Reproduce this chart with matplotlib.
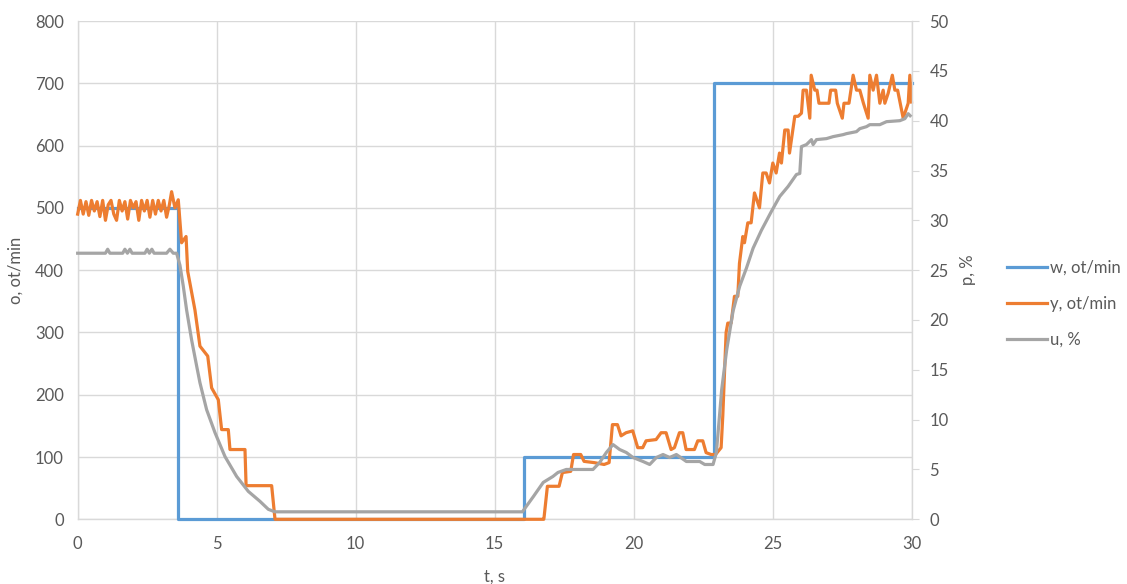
import matplotlib.pyplot as plt
from matplotlib.lines import Line2D

# setpoint w, ot/min
w_t = [0.0, 3.62, 3.62, 16.05, 16.05, 22.9, 22.9, 30.0]
w_val = [500, 500, 0, 0, 100, 100, 700, 700]

# measured speed y, ot/min
y_t = [0.0, 0.1, 0.2, 0.3, 0.4, 0.5, 0.6, 0.7, 0.8, 0.9, 1.0, 1.1, 1.2, 1.3, 1.4,
       1.5, 1.6, 1.7, 1.8, 1.9, 2.0, 2.1, 2.2, 2.3, 2.4, 2.5, 2.6, 2.7, 2.8, 2.9,
       3.0, 3.1, 3.2, 3.3, 3.38, 3.5, 3.62, 3.74, 3.9, 3.96, 4.22, 4.4, 4.68, 4.82,
       5.06, 5.18, 5.42, 5.48, 6.02, 6.06, 6.98, 7.1, 16.77, 16.78, 16.9, 17.32,
       17.44, 17.74, 17.84, 18.1, 18.22, 18.58, 18.94, 19.12, 19.24, 19.42, 19.55,
       19.73, 19.97, 20.15, 20.33, 20.45, 20.81, 20.99, 21.17, 21.35, 21.47, 21.65,
       21.77, 21.89, 22.19, 22.31, 22.49, 22.61, 22.79, 22.95, 23.15, 23.21, 23.33,
       23.39, 23.51, 23.63, 23.75, 23.81, 23.93, 23.99, 24.11, 24.23, 24.35, 24.53,
       24.65, 24.77, 24.89, 25.01, 25.13, 25.25, 25.32, 25.44, 25.56, 25.61, 25.8,
       25.92, 26.04, 26.1, 26.22, 26.34, 26.39, 26.52, 26.6, 26.67, 27.03, 27.09,
       27.27, 27.33, 27.51, 27.57, 27.75, 27.9, 28.02, 28.14, 28.27, 28.44, 28.5,
       28.62, 28.74, 28.86, 28.98, 29.04, 29.16, 29.31, 29.4, 29.5, 29.7, 29.88,
       29.94, 30.0]
y_val = [490, 512, 490, 510, 488, 512, 495, 510, 486, 512, 480, 505, 512, 490, 480,
         512, 495, 510, 482, 512, 500, 510, 480, 512, 495, 512, 485, 512, 490, 512,
         495, 512, 485, 505, 526, 500, 513, 444, 454, 398, 336, 278, 262, 211,
         192, 144, 144, 112, 112, 54, 54, 0, 0, 3, 53, 53,
         75, 77, 104, 104, 93, 91, 88, 91, 152, 152, 134,
         139, 142, 115, 115, 126, 128, 139, 139, 112, 115, 139,
         139, 112, 112, 126, 126, 107, 104, 104, 115, 166, 300,
         315, 315, 358, 358, 411, 454, 444, 476, 476, 524, 500,
         556, 556, 540, 572, 556, 588, 572, 625, 625, 588, 647,
         647, 652, 689, 689, 644, 713, 689, 689, 668, 668, 689,
         689, 668, 644, 668, 668, 713, 689, 689, 668, 644, 713,
         689, 713, 668, 689, 668, 684, 713, 689, 689, 644, 668,
         713, 670]

# control signal u, %
u_t = [0.0, 1.0, 1.08, 1.16, 1.62, 1.7, 1.79, 1.88, 1.96, 2.42, 2.5, 2.58, 2.67,
       2.75, 3.2, 3.32, 3.44, 3.56, 3.68, 3.8, 3.92, 4.1, 4.28, 4.4, 4.64, 4.94,
       5.3, 5.72, 6.14, 6.56, 6.86, 7.1, 16.0, 16.4, 16.75, 17.1, 17.28, 17.58,
       18.54, 18.78, 19.02, 19.26, 19.5, 19.74, 19.98, 20.34, 20.58, 20.82, 21.06,
       21.3, 21.54, 21.9, 22.38, 22.56, 22.86, 22.98, 23.05, 23.17, 23.35, 23.58,
       23.82, 24.06, 24.3, 24.6, 24.96, 25.26, 25.56, 25.86, 25.98, 26.04, 26.22,
       26.4, 26.46, 26.58, 26.94, 27.18, 27.54, 27.66, 28.02, 28.14, 28.38, 28.5,
       28.86, 29.1, 29.58, 29.76, 29.88, 29.95]
u_val = [26.7, 26.7, 27.1, 26.7, 26.7, 27.1, 26.7, 27.1, 26.7, 26.7, 27.1, 26.7, 27.1,
         26.7, 26.7, 27.1, 26.7, 26.7, 25.5, 23.4, 21.0, 18.0, 15.4, 13.7, 11.0, 8.7,
         6.3, 4.3, 2.8, 1.8, 1.0, 0.75, 0.75, 2.3, 3.7, 4.3, 4.7, 5.0,
         5.0, 5.7, 6.7, 7.5, 7.0, 6.7, 6.2, 5.8, 5.5, 6.2, 6.5,
         6.2, 6.5, 5.8, 5.8, 5.5, 5.5, 6.7, 9.0, 13.0, 17.0, 20.9,
         23.4, 25.2, 27.2, 29.0, 30.9, 32.4, 33.4, 34.6, 34.7, 37.4, 37.6,
         38.1, 37.6, 38.1, 38.2, 38.4, 38.6, 38.7, 38.9, 39.2, 39.4, 39.6,
         39.6, 39.9, 40.0, 40.2, 40.7, 40.5]

labels = ['w, ot/min', 'y, ot/min', 'u, %']
colors = ['#5B9BD5', '#ED7D31', '#A5A5A5']

plt.rcParams['font.family'] = ['Lato', 'DejaVu Sans']
text_color = '#595959'
grid_color = '#D9D9D9'
fs = 12

fig = plt.figure(figsize=(11.27, 5.84), dpi=100)
ax = fig.add_axes([0.0689, 0.1108, 0.7399, 0.8532])
ax2 = ax.twinx()

# lines may sit on the zero baseline, so they are not clipped there
ax.plot(w_t, w_val, color=colors[0], lw=2.3, clip_on=False, zorder=3)
ax.plot(y_t, y_val, color=colors[1], lw=2.3, clip_on=False, zorder=3)
ax2.plot(u_t, u_val, color=colors[2], lw=2.3, clip_on=False, zorder=3)

ax.set_xlim(0, 30)
ax.set_ylim(0, 800)
ax2.set_ylim(0, 50)
ax.set_xticks(range(0, 31, 5))
ax.set_yticks(range(0, 801, 100))
ax2.set_yticks(range(0, 51, 5))

ax.grid(True, color=grid_color, lw=1)
ax.set_axisbelow(True)

for a in (ax, ax2):
    a.spines['top'].set_visible(False)
    for s in ('left', 'right', 'bottom'):
        a.spines[s].set_color(grid_color)
        a.spines[s].set_linewidth(1)
ax.spines['right'].set_visible(False)
ax2.spines['left'].set_visible(False)
ax2.spines['bottom'].set_visible(False)

ax.tick_params(axis='both', length=0, labelsize=fs, labelcolor=text_color, pad=10)
ax.tick_params(axis='x', pad=12)
ax2.tick_params(axis='y', length=5, color=grid_color, labelsize=fs,
                labelcolor=text_color, pad=8)

ax.set_xlabel('t, s', fontsize=fs, color=text_color, labelpad=12)
ax.set_ylabel('o, ot/min', fontsize=fs, color=text_color, labelpad=8)
ax2.set_ylabel('p, %', fontsize=fs, color=text_color, labelpad=8)

handles = [Line2D([], [], color=c, lw=2.3) for c in colors]
fig.legend(handles, labels, loc='center left', bbox_to_anchor=(0.88, 0.48),
           frameon=False, fontsize=fs, labelcolor=text_color, handlelength=2.4,
           handletextpad=0.2, labelspacing=1.2)

fig.savefig('out.png', dpi=100)
